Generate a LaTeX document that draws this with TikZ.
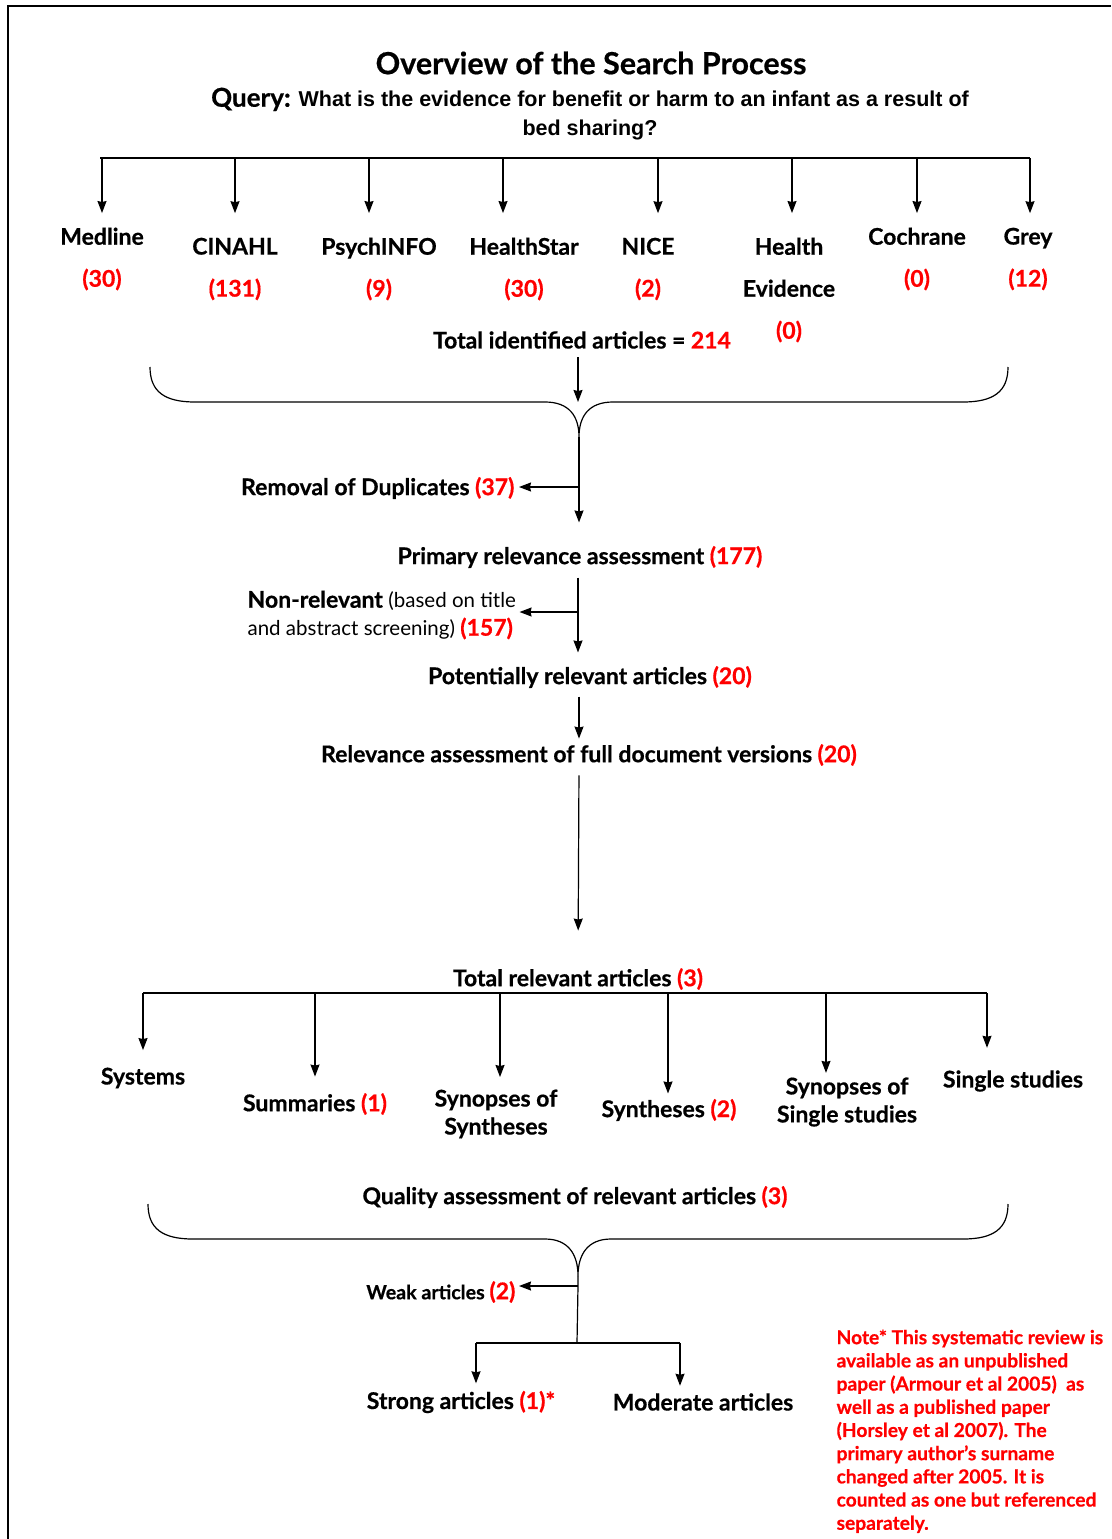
\documentclass[tikz,border=0pt]{standalone}
\usepackage{fontspec}
\setmainfont{Lato}[BoldFeatures={FakeBold=0.6}]
\newfontfamily\arialfont{Liberation Sans}
\usetikzlibrary{arrows.meta,positioning}

\newcommand{\hits}[1]{\textcolor{red}{#1}}

\begin{document}
\begin{tikzpicture}[
    x=1pt,
    y=-1pt,
    line width=1.2pt,
    arrow/.style={
        -{Stealth[length=12pt,width=9pt,inset=1pt]},
        line width=1.2pt
    },
    db/.style={
        font=\fontsize{23}{42}\selectfont\bfseries,
        align=center,
        inner sep=0pt
    },
    stage/.style={
        font=\fontsize{23}{28}\selectfont\bfseries,
        align=center,
        inner sep=0pt
    },
    note/.style={
        font=\fontsize{19.2}{23.2}\selectfont\bfseries,
        text=red,
        align=left,
        inner sep=0pt
    }
]
\useasboundingbox (0,0) rectangle (1111,1539);

% Frame
\draw[line width=2.5pt] (8,1539) -- (8,6) -- (1111,6);

% Heading
\node [font=\fontsize{30.5}{34}\selectfont\bfseries, inner sep=0pt] (title) at (591,63) {Overview of the Search Process};
\node [font=\arialfont\bfseries\fontsize{21.5}{29}\selectfont, align=center, inner sep=0pt] (query) at (590,114) {
    {\rmfamily\fontsize{26}{29}\selectfont Query:} What is the evidence for benefit or harm to an infant as a result of\\
    bed sharing?
};

% Databases
\node [db] (medline) at (102,259) {Medline\\\hits{(30)}};
\node [db] (cinahl) at (235,269) {CINAHL\\\hits{(131)}};
\node [db] (psych) at (379,269) {PsychINFO\\\hits{(9)}};
\node [db] (hstar) at (524,269) {HealthStar\\\hits{(30)}};
\node [db] (nice) at (648,269) {NICE\\\hits{(2)}};
\node [db] (hev) at (789,290) {Health\\Evidence\\\hits{(0)}};
\node [db] (cochrane) at (917,259) {Cochrane\\\hits{(0)}};
\node [db] (grey) at (1028,259) {Grey\\\hits{(12)}};

% Search bus
\coordinate (busA) at (100,158);
\coordinate (busAend) at (1030,158);
\draw (busA) -- (busAend);
\draw [arrow, shorten >=14pt] (medline.north |- busA) -- (medline.north);
\draw [arrow, shorten >=24pt] (cinahl.north |- busA) -- (cinahl.north);
\draw [arrow, shorten >=24pt] ([xshift=-10pt]psych.north |- busA) -- ([xshift=-10pt]psych.north);
\draw [arrow, shorten >=24pt] ([xshift=-21pt]hstar.north |- busA) -- ([xshift=-21pt]hstar.north);
\draw [arrow, shorten >=24pt] ([xshift=10pt]nice.north |- busA) -- ([xshift=10pt]nice.north);
\draw [arrow, shorten >=24pt] ([xshift=3pt]hev.north |- busA) -- ([xshift=3pt]hev.north);
\draw [arrow, shorten >=14pt] (cochrane.north |- busA) -- (cochrane.north);
\draw [arrow, shorten >=14pt] ([xshift=2pt]grey.north |- busA) -- ([xshift=2pt]grey.north);

% Screening
\node [stage] (total) at (582,340) {Total identified articles = \hits{214}};
\coordinate (notchA) at (578,402);
\coordinate (tipA) at (579,437);
\draw (150,367) .. controls (150,392) and (165,402) .. (195,402) -- (545,402)
    .. controls (569,402) and (579,416) .. (tipA)
    .. controls (579,416) and (589,402) .. (613,402) -- (963,402)
    .. controls (993,402) and (1008,392) .. (1008,367);
\draw [arrow, shorten <=8pt] (total.south -| notchA) -- (notchA);

\node [stage, anchor=east] (dupl) at (515,488) {Removal of Duplicates \hits{(37)}};
\node [stage] (primary) at (580,557) {Primary relevance assessment \hits{(177)}};
\node [stage, anchor=west, align=left] (nonrel) at (247,615) {Non-relevant \mdseries\fontsize{20.5}{28}\selectfont(based on title\\
    \mdseries\fontsize{20.5}{28}\selectfont and abstract screening) \bfseries\fontsize{23}{28}\selectfont\hits{(157)}};
\node [stage] (potential) at (590,677) {Potentially relevant articles \hits{(20)}};
\node [stage] (fulltext) at (589,755) {Relevance assessment of full document versions \hits{(20)}};

\coordinate (dupj) at (579,487);
\coordinate (nrj) at (578,612);
\draw (tipA) -- (dupj);
\draw [arrow, shorten >=4pt] (dupj) -- (dupl.east |- dupj);
\draw [arrow, shorten >=23pt] (dupj) -- (primary.north -| dupj);
\draw [arrow, shorten <=9pt, shorten >=13pt] (primary.south -| nrj) -- (potential.north -| nrj);
\draw [arrow, shorten >=3pt] (nrj) -- (nonrel.east |- nrj);
\draw [arrow, shorten <=8pt, shorten >=5pt] (potential.south -| dupj) -- (fulltext.north -| dupj);

% Article types
\node [stage] (totalrel) at (578,979) {Total relevant articles \hits{(3)}};
\draw [arrow, shorten <=9pt, shorten >=37pt] (fulltext.south -| dupj) -- (totalrel.north -| notchA);

\node [stage] (systems) at (143,1078) {Systems};
\node [stage] (summ) at (315,1104) {Summaries \hits{(1)}};
\node [stage] (synsyn) at (496,1114) {Synopses of\\Syntheses};
\node [stage] (synth) at (669,1110) {Syntheses \hits{(2)}};
\node [stage] (synsing) at (847,1102) {Synopses of\\Single studies};
\node [stage] (single) at (1013,1081) {Single studies};

\coordinate (busB) at (143,993);
\coordinate (busBend) at (987,993);
\draw (busB) -- (busBend);
\draw [arrow, shorten >=17pt] (systems.north |- busB) -- (systems.north);
\draw [arrow, shorten >=16pt] (summ.north |- busB) -- (summ.north);
\draw [arrow, shorten >=12pt] ([xshift=4pt]synsyn.north |- busB) -- ([xshift=4pt]synsyn.north);
\draw [arrow, shorten >=5pt] ([xshift=-1pt]synth.north |- busB) -- ([xshift=-1pt]synth.north);
\draw [arrow, shorten >=4pt] ([xshift=-21pt]synsing.north |- busB) -- ([xshift=-21pt]synsing.north);
\draw [arrow, shorten >=22pt] (busBend) -- (busBend |- single.north);

% Quality assessment
\node [stage] (quality) at (575,1197) {Quality assessment of relevant articles \hits{(3)}};
\coordinate (tipB) at (578,1276);
\draw (148,1204) .. controls (148,1229) and (163,1239) .. (193,1239) -- (545,1239)
    .. controls (568,1239) and (578,1254) .. (tipB)
    .. controls (578,1254) and (588,1239) .. (611,1239) -- (963,1239)
    .. controls (993,1239) and (1008,1229) .. (1008,1204);

\node [anchor=east, inner sep=0pt, font=\fontsize{19.6}{22}\selectfont\bfseries] (weak) at (516,1292) {Weak articles {\fontsize{23}{22}\selectfont\hits{(2)}}};
\node [stage] (strong) at (461,1402) {Strong articles \hits{(1)*}};
\node [stage] (moderate) at (703,1402) {Moderate articles};

\coordinate (weakj) at (578,1286);
\coordinate (splitj) at (577,1343);
\draw (tipB) -- (weakj) -- (splitj);
\draw [arrow, shorten >=3pt] (weakj) -- (weak.east |- weakj);
\draw (splitj) -- (476,1343) coordinate (splitl);
\draw (splitj) -- (680,1343) coordinate (splitr);
\draw [arrow, shorten >=7pt] (splitl) -- (splitl |- strong.north);
\draw [arrow, shorten >=7pt] (splitr) -- (splitr |- moderate.north);

% Footnote
\node [note, anchor=north west] (footnote) at (836,1329) {Note* This systematic review is\\
    available as an unpublished\\
    paper (Armour et al 2005)~~as\\
    well as a published paper\\
    (Horsley et al 2007). The\\
    primary author's surname\\
    changed after 2005. It is\\
    counted as one but referenced\\
    separately.};

\end{tikzpicture}
\end{document}
